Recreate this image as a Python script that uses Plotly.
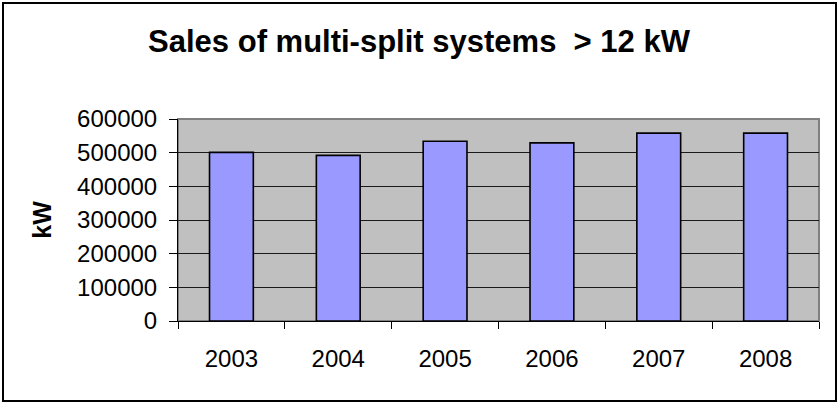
import plotly.graph_objects as go

# Yearly sales of multi-split systems above 12 kW
years = ["2003", "2004", "2005", "2006", "2007", "2008"]
sales_kw = [501000, 492000, 534000, 529000, 558000, 558000]

W, H = 839, 404
L, R, T, B = 178, 20, 119, 83
pw, ph = W - L - R, H - T - B

FONT = "Liberation Sans, Arial, sans-serif"

fig = go.Figure(
    go.Bar(
        x=years,
        y=sales_kw,
        marker=dict(color="#9999FF", line=dict(color="#000000", width=1.6)),
        width=0.41,
        hoverinfo="x+y",
    )
)

fig.update_layout(
    width=W,
    height=H,
    margin=dict(l=L, r=R, t=T, b=B, pad=0),
    paper_bgcolor="#FFFFFF",
    plot_bgcolor="#C0C0C0",
    showlegend=False,
    font=dict(family=FONT, size=24, color="#000000"),
    title=dict(
        text="<b>Sales of multi-split systems  &gt; 12 kW</b>",
        font=dict(family=FONT, size=31, color="#000000"),
        x=419 / W,
        xanchor="center",
        xref="container",
        y=1 - 41 / H,
        yanchor="middle",
        yref="container",
    ),
    xaxis=dict(
        type="category",
        showgrid=False,
        showline=True,
        linecolor="#000000",
        linewidth=1,
        ticks="outside",
        tickson="boundaries",
        ticklen=7,
        tickcolor="#000000",
        tickwidth=1,
        ticklabelstandoff=16,
        tickfont=dict(family=FONT, size=24),
        zeroline=False,
    ),
    yaxis=dict(
        range=[0, 600000],
        dtick=100000,
        tick0=0,
        tickformat="d",
        showgrid=True,
        gridcolor="#1a1a1a",
        gridwidth=1,
        zeroline=True,
        zerolinecolor="#000000",
        zerolinewidth=1,
        showline=True,
        linecolor="#000000",
        linewidth=1,
        ticks="outside",
        ticklen=8,
        tickcolor="#000000",
        tickwidth=1,
        ticklabelstandoff=7,
        tickfont=dict(family=FONT, size=24),
        title=dict(
            text="<b>kW</b>",
            font=dict(family=FONT, size=25),
            standoff=18,
        ),
    ),
    shapes=[
        # gray border on top/right of the plot area
        dict(
            type="rect", xref="paper", yref="paper",
            x0=0, x1=1, y0=0, y1=1,
            line=dict(color="#808080", width=2),
            layer="below",
        ),
        # outer chart frame
        dict(
            type="rect", xref="paper", yref="paper",
            x0=(3 - L) / pw, x1=(836 - L) / pw,
            y0=-(401 - (T + ph)) / ph, y1=1 + (T - 3) / ph,
            line=dict(color="#000000", width=2),
        ),
    ],
)

fig.write_html("out.html")
